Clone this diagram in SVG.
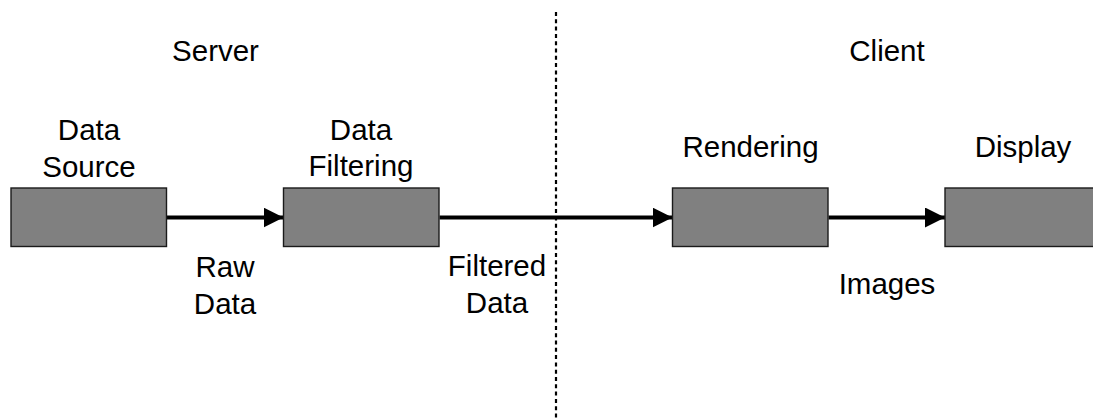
<svg xmlns="http://www.w3.org/2000/svg" width="1093" height="420" viewBox="0 0 1093 420">
  <style>
    text { font-family: "Liberation Sans", Arial, sans-serif; font-size: 29.5px; fill: #000; text-anchor: middle; }
    .box { fill: #808080; stroke: #1a1a1a; stroke-width: 1.4; }
    .flow { stroke: #000; stroke-width: 4; fill: none; marker-end: url(#head); }
    .divider { stroke: #000; stroke-width: 2.2; stroke-dasharray: 4 3.3; }
  </style>
  <defs>
    <marker id="head" markerUnits="userSpaceOnUse" markerWidth="20" markerHeight="20" refX="20" refY="10" orient="auto">
      <path d="M0,0 L20,10 L0,20 Z" fill="#000"/>
    </marker>
  </defs>
  <rect width="1093" height="420" fill="#fff"/>

  <!-- server / client split -->
  <line class="divider" x1="556" y1="12" x2="556" y2="420"/>
  <text x="215.5" y="61">Server</text>
  <text x="887" y="61">Client</text>

  <g id="connectors">
    <line class="flow" x1="166.5" y1="217.5" x2="283.5" y2="217.5"/>
    <line class="flow" x1="439.5" y1="217.5" x2="672.5" y2="217.5"/>
    <line class="flow" x1="828.5" y1="217.5" x2="945" y2="217.5"/>
    <text x="225" y="277">Raw</text>
    <text x="225" y="313.5">Data</text>
    <text x="497" y="276">Filtered</text>
    <text x="497" y="312.5">Data</text>
    <text x="887" y="293.5">Images</text>
  </g>

  <g id="data-source">
    <rect class="box" x="11" y="188" width="155.5" height="58.5"/>
    <text x="89" y="139.5">Data</text>
    <text x="89" y="176.5">Source</text>
  </g>

  <g id="data-filtering">
    <rect class="box" x="283.5" y="188" width="155.5" height="58.5"/>
    <text x="361" y="139.5">Data</text>
    <text x="361" y="176">Filtering</text>
  </g>

  <g id="rendering">
    <rect class="box" x="672.5" y="188" width="155.5" height="58.5"/>
    <text x="750.5" y="157">Rendering</text>
  </g>

  <g id="display">
    <rect class="box" x="945" y="188" width="155.5" height="58.5"/>
    <text x="1023" y="157">Display</text>
  </g>
</svg>
